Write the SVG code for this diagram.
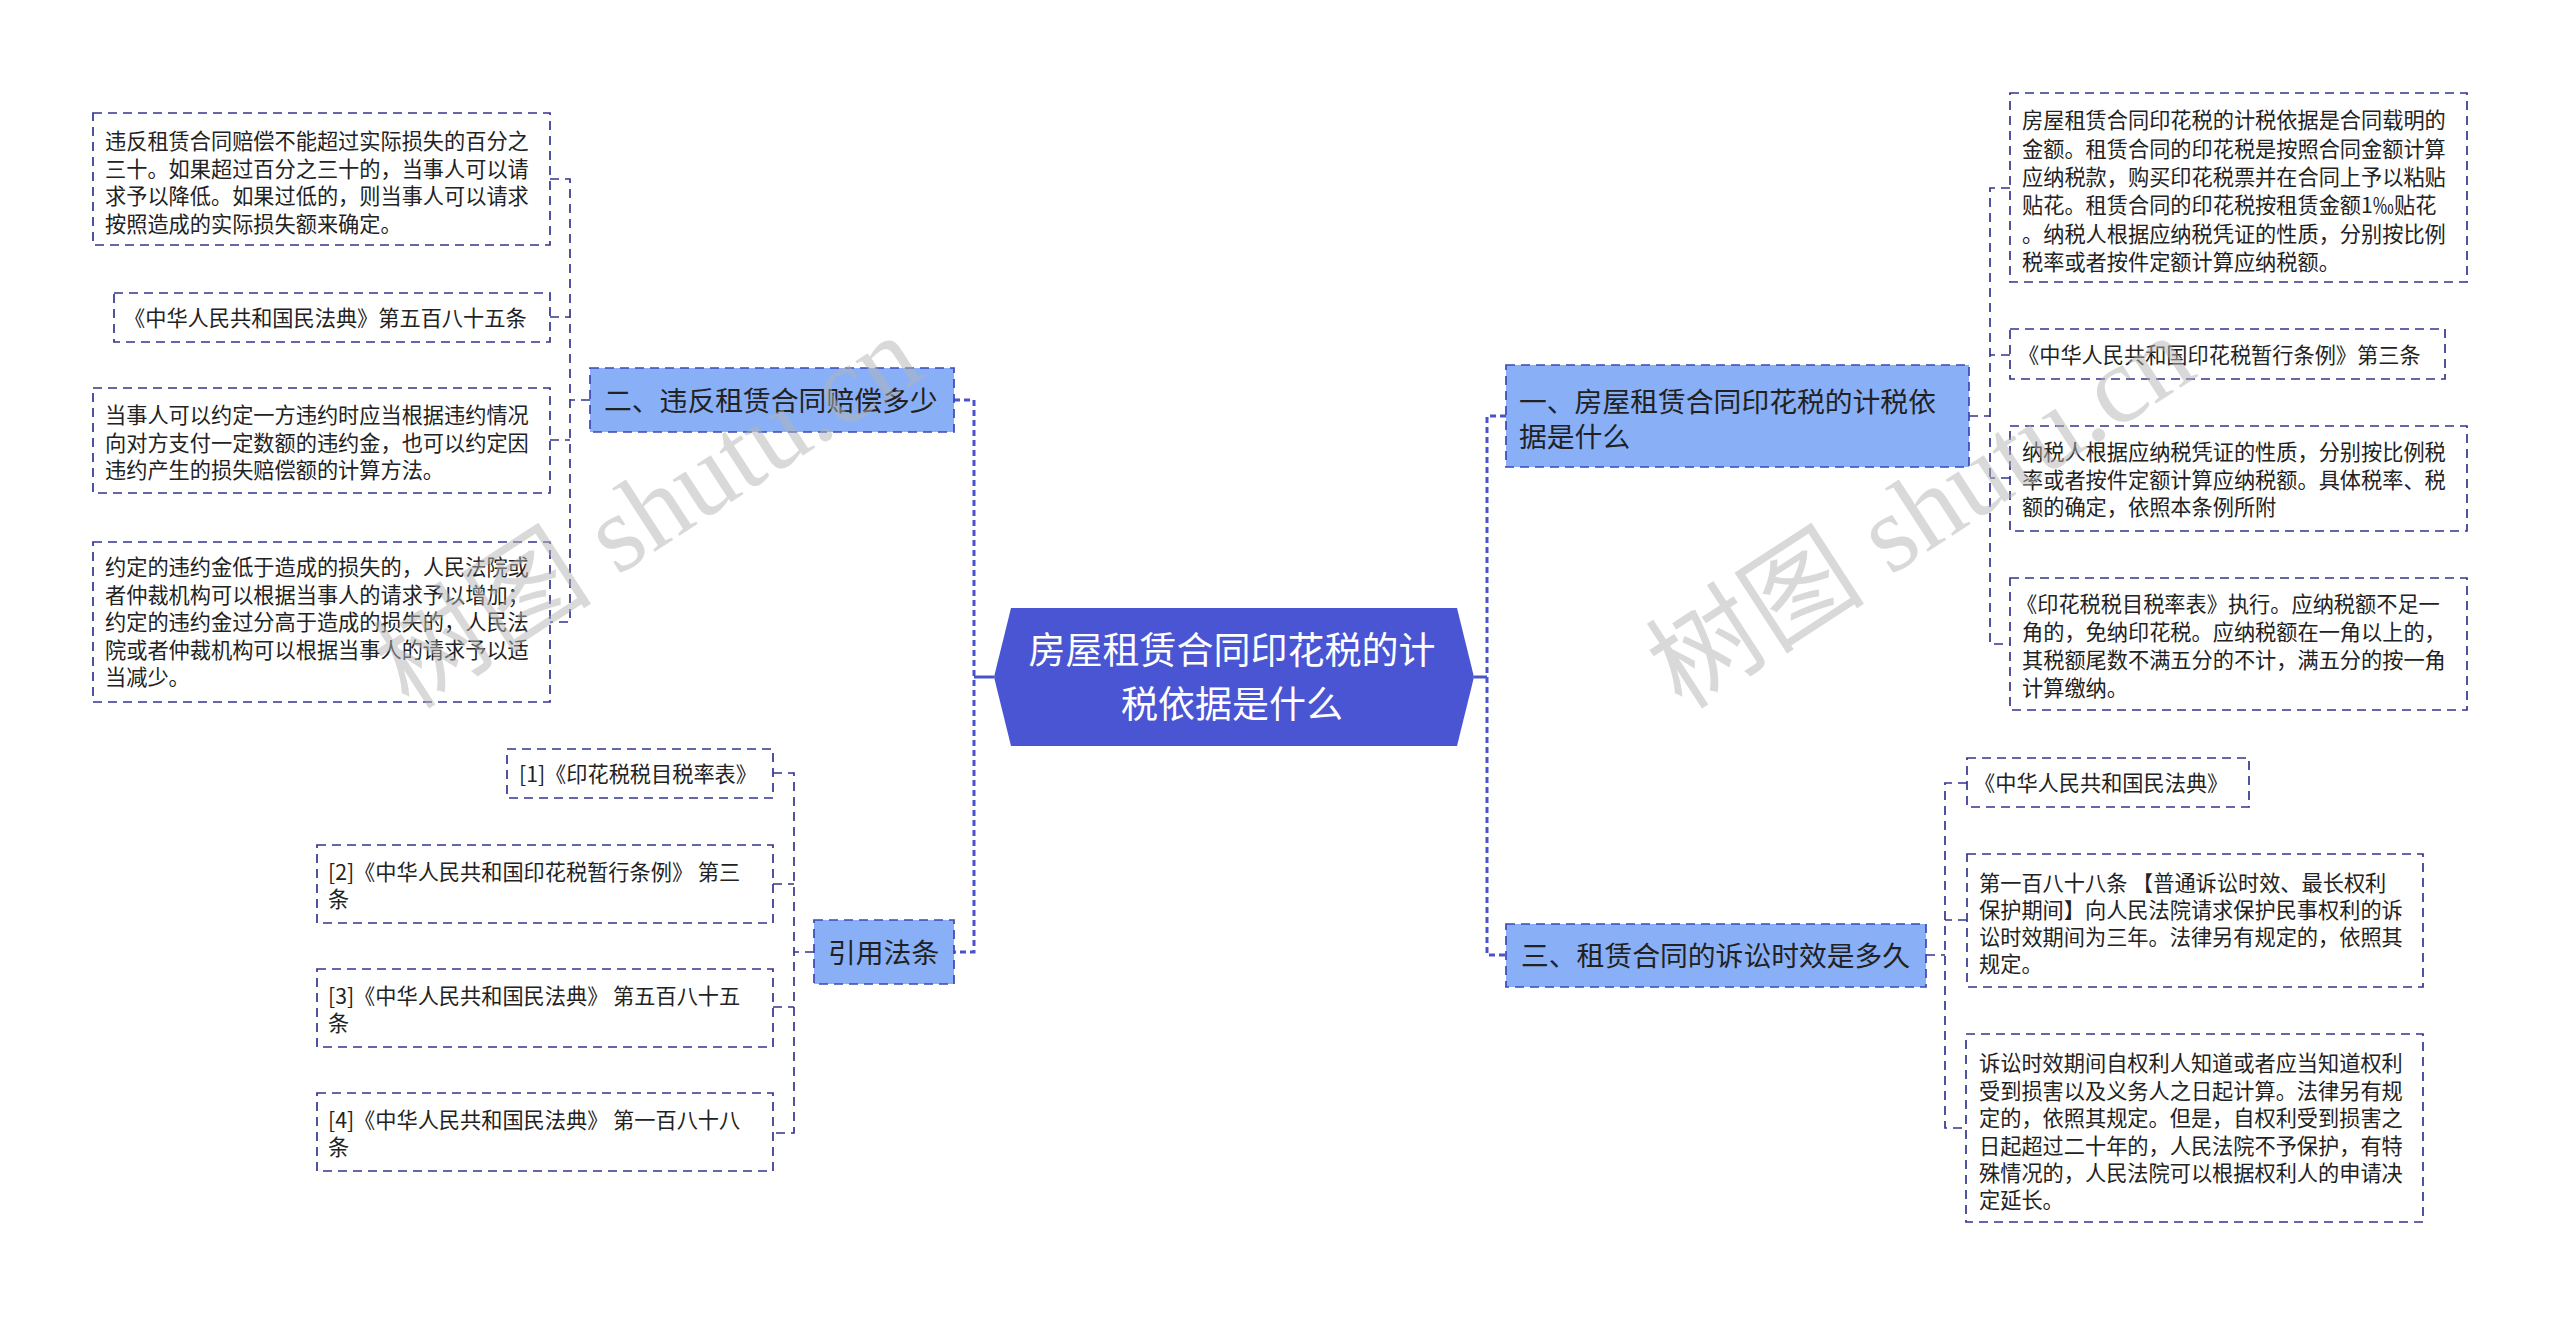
<svg xmlns="http://www.w3.org/2000/svg" width="2560" height="1317" viewBox="0 0 2560 1317">
<style>
text{font-family:"Noto Sans CJK SC","Noto Sans",sans-serif;fill:#222}
.leaf{fill:#fff;stroke:#33358f;stroke-width:1.7;stroke-dasharray:9 6}
.l1{fill:#89b0f7;stroke:#3b47b6;stroke-width:1.7;stroke-dasharray:9 6}
.t1{font-size:27.8px}
.t2{font-size:21.2px}
.main{fill:none;stroke:#4a52cc;stroke-width:3;stroke-dasharray:6 4}
.solid{fill:none;stroke:#4a52cc;stroke-width:3}
.sub{fill:none;stroke:#33358f;stroke-width:1.7;stroke-dasharray:9 6}
.wm{font-family:"Liberation Serif","Noto Sans CJK SC",serif;font-size:110px;fill:#b4b4b4;fill-opacity:0.5}
</style>
<rect width="2560" height="1317" fill="#fff"/>

<g id="connectors">
  <path class="solid" d="M994 677H974"/>
  <path class="main" d="M954 400H974V952H954"/>
  <path class="solid" d="M1474 677H1487"/>
  <path class="main" d="M1506 416H1487V955H1506"/>
  <path class="sub" d="M590 400H570"/>
  <path class="sub" d="M550 179H570V622H550M550 317H570M550 440H570"/>
  <path class="sub" d="M814 952H794"/>
  <path class="sub" d="M773 773H794V1133H773M773 884H794M773 1007H794"/>
  <path class="sub" d="M1969 416H1990"/>
  <path class="sub" d="M2010 188H1990V644H2010M2010 355H1990M2010 478H1990"/>
  <path class="sub" d="M1926 955H1945"/>
  <path class="sub" d="M1967 783H1945V1128H1967M1967 920H1945"/>
</g>

<g id="root">
  <polygon points="994,677 1011,608 1457,608 1474,677 1457,746 1011,746" fill="#4a55d4"/>
  <text x="1232" y="648" font-size="37" text-anchor="middle" dominant-baseline="central" style="fill:#fff">房屋租赁合同印花税的计</text>
  <text x="1232" y="702" font-size="37" text-anchor="middle" dominant-baseline="central" style="fill:#fff">税依据是什么</text>
</g>

<g id="n1">
  <rect class="l1" x="1506" y="365" width="463" height="102"/>
  <text class="t1" x="1519" y="400" dominant-baseline="central">一、房屋租赁合同印花税的计税依</text>
  <text class="t1" x="1519" y="435" dominant-baseline="central">据是什么</text>
</g>
<g id="n2">
  <rect class="l1" x="590" y="368" width="364" height="64"/>
  <text class="t1" x="604" y="399" dominant-baseline="central">二、违反租赁合同赔偿多少</text>
</g>
<g id="n3">
  <rect class="l1" x="1506" y="924" width="420" height="63"/>
  <text class="t1" x="1521" y="954" dominant-baseline="central">三、租赁合同的诉讼时效是多久</text>
</g>
<g id="n4">
  <rect class="l1" x="814" y="920" width="140" height="64"/>
  <text class="t1" x="828" y="951" dominant-baseline="central">引用法条</text>
</g>

<g id="n2a">
  <rect class="leaf" x="93" y="113" width="457" height="132"/>
  <text class="t2" dominant-baseline="central"><tspan x="105" y="139">违反租赁合同赔偿不能超过实际损失的百分之</tspan><tspan x="105" y="166.5">三十。如果超过百分之三十的，当事人可以请</tspan><tspan x="105" y="194">求予以降低。如果过低的，则当事人可以请求</tspan><tspan x="105" y="221.5">按照造成的实际损失额来确定。</tspan></text>
</g>
<g id="n2b">
  <rect class="leaf" x="114" y="293" width="436" height="49"/>
  <text class="t2" x="124" y="316" dominant-baseline="central">《中华人民共和国民法典》第五百八十五条</text>
</g>
<g id="n2c">
  <rect class="leaf" x="93" y="388" width="457" height="105"/>
  <text class="t2" dominant-baseline="central"><tspan x="105" y="413">当事人可以约定一方违约时应当根据违约情况</tspan><tspan x="105" y="440.5">向对方支付一定数额的违约金，也可以约定因</tspan><tspan x="105" y="468">违约产生的损失赔偿额的计算方法。</tspan></text>
</g>
<g id="n2d">
  <rect class="leaf" x="93" y="542" width="457" height="160"/>
  <text class="t2" dominant-baseline="central"><tspan x="105" y="565">约定的违约金低于造成的损失的，人民法院或</tspan><tspan x="105" y="592.5">者仲裁机构可以根据当事人的请求予以增加；</tspan><tspan x="105" y="620">约定的违约金过分高于造成的损失的，人民法</tspan><tspan x="105" y="647.5">院或者仲裁机构可以根据当事人的请求予以适</tspan><tspan x="105" y="675">当减少。</tspan></text>
</g>

<g id="n4a">
  <rect class="leaf" x="507" y="749" width="266" height="49"/>
  <text class="t2" x="519" y="772" dominant-baseline="central">[1]《印花税税目税率表》</text>
</g>
<g id="n4b">
  <rect class="leaf" x="317" y="845" width="456" height="78"/>
  <text class="t2" dominant-baseline="central"><tspan x="328" y="870">[2]《中华人民共和国印花税暂行条例》 第三</tspan><tspan x="328" y="897">条</tspan></text>
</g>
<g id="n4c">
  <rect class="leaf" x="317" y="969" width="456" height="78"/>
  <text class="t2" dominant-baseline="central"><tspan x="328" y="994">[3]《中华人民共和国民法典》 第五百八十五</tspan><tspan x="328" y="1021">条</tspan></text>
</g>
<g id="n4d">
  <rect class="leaf" x="317" y="1093" width="456" height="78"/>
  <text class="t2" dominant-baseline="central"><tspan x="328" y="1118">[4]《中华人民共和国民法典》 第一百八十八</tspan><tspan x="328" y="1145">条</tspan></text>
</g>

<g id="n1a">
  <rect class="leaf" x="2010" y="93" width="457" height="189"/>
  <text class="t2" dominant-baseline="central"><tspan x="2022" y="118">房屋租赁合同印花税的计税依据是合同载明的</tspan><tspan x="2022" y="146.5">金额。租赁合同的印花税是按照合同金额计算</tspan><tspan x="2022" y="175">应纳税款，购买印花税票并在合同上予以粘贴</tspan><tspan x="2022" y="203">贴花。租赁合同的印花税按租赁金额1‰贴花</tspan><tspan x="2022" y="231.5">。纳税人根据应纳税凭证的性质，分别按比例</tspan><tspan x="2022" y="260">税率或者按件定额计算应纳税额。</tspan></text>
</g>
<g id="n1b">
  <rect class="leaf" x="2010" y="329" width="435" height="50"/>
  <text class="t2" x="2018" y="353" dominant-baseline="central">《中华人民共和国印花税暂行条例》第三条</text>
</g>
<g id="n1c">
  <rect class="leaf" x="2010" y="426" width="457" height="105"/>
  <text class="t2" dominant-baseline="central"><tspan x="2022" y="450">纳税人根据应纳税凭证的性质，分别按比例税</tspan><tspan x="2022" y="477.5">率或者按件定额计算应纳税额。具体税率、税</tspan><tspan x="2022" y="505">额的确定，依照本条例所附</tspan></text>
</g>
<g id="n1d">
  <rect class="leaf" x="2010" y="578" width="457" height="132"/>
  <text class="t2" dominant-baseline="central"><tspan x="2016" y="602">《印花税税目税率表》执行。应纳税额不足一</tspan><tspan x="2022" y="630">角的，免纳印花税。应纳税额在一角以上的，</tspan><tspan x="2022" y="658">其税额尾数不满五分的不计，满五分的按一角</tspan><tspan x="2022" y="686">计算缴纳。</tspan></text>
</g>

<g id="n3a">
  <rect class="leaf" x="1967" y="758" width="282" height="49"/>
  <text class="t2" x="1974" y="781" dominant-baseline="central">《中华人民共和国民法典》</text>
</g>
<g id="n3b">
  <rect class="leaf" x="1967" y="854" width="456" height="133"/>
  <text class="t2" dominant-baseline="central"><tspan x="1979" y="881">第一百八十八条 【普通诉讼时效、最长权利</tspan><tspan x="1979" y="908">保护期间】向人民法院请求保护民事权利的诉</tspan><tspan x="1979" y="935">讼时效期间为三年。法律另有规定的，依照其</tspan><tspan x="1979" y="962">规定。</tspan></text>
</g>
<g id="n3c">
  <rect class="leaf" x="1966" y="1034" width="457" height="188"/>
  <text class="t2" dominant-baseline="central"><tspan x="1979" y="1061">诉讼时效期间自权利人知道或者应当知道权利</tspan><tspan x="1979" y="1089">受到损害以及义务人之日起计算。法律另有规</tspan><tspan x="1979" y="1116">定的，依照其规定。但是，自权利受到损害之</tspan><tspan x="1979" y="1144">日起超过二十年的，人民法院不予保护，有特</tspan><tspan x="1979" y="1171">殊情况的，人民法院可以根据权利人的申请决</tspan><tspan x="1979" y="1198">定延长。</tspan></text>
</g>

<g id="watermarks">
  <text class="wm" x="648" y="512" text-anchor="middle" dominant-baseline="central" transform="rotate(-33 648 512)">树图 shutu.cn</text>
  <text class="wm" x="1921" y="512" text-anchor="middle" dominant-baseline="central" transform="rotate(-33 1921 512)">树图 shutu.cn</text>
</g>
</svg>
